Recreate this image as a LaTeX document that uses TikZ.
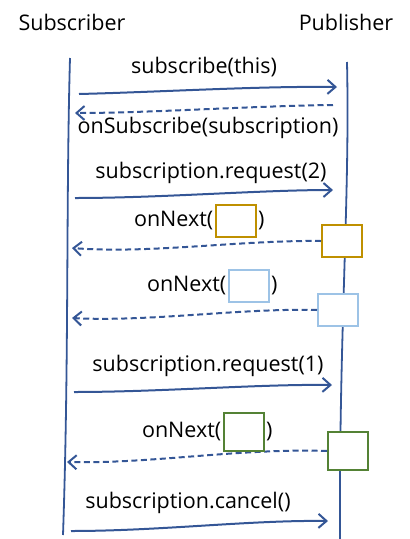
\documentclass[tikz,border=0pt]{standalone}
\usepackage{fontspec}
\setmainfont{Open Sans}
\usetikzlibrary{arrows.meta,positioning}
\definecolor{lineblue}{RGB}{52,86,150}
\definecolor{goldbox}{RGB}{191,144,0}
\definecolor{paleblue}{RGB}{157,195,230}
\definecolor{greenbox}{RGB}{84,130,53}
\begin{document}
\begin{tikzpicture}[x=1pt,y=-1pt]
\tikzstyle{every node}+=[inner sep=0pt,font=\fontsize{21.5}{25}\selectfont]
\tikzstyle{msg}=[lineblue,line width=2pt,-{Straight Barb[length=8pt,width=14pt,line width=2pt]}]
\tikzstyle{reply}=[msg,dash pattern=on 6pt off 3.5pt]
\tikzstyle{item}=[draw,fill=white,line width=2pt,minimum width=40pt,minimum height=32pt]
\useasboundingbox (0,0) rectangle (410,539);
% heads
\node (sub) at (72,22) {Subscriber};
\node (pub) at (346,22) {Publisher};
% lifelines
\draw [lineblue,line width=1.8pt] (70,58) .. controls (66,200) and (69,360) .. (63,535);
\draw [lineblue,line width=1.8pt] (347,62) .. controls (350,200) and (339,330) .. (340,539);
% subscribe(this)
\coordinate (s1) at (79,94);
\coordinate (p1) at (337,87);
\draw [msg] (s1) .. controls (160,92) and (260,86) .. (p1);
\node (m1) at (204,67) {subscribe(this)};
% onSubscribe
\coordinate (p2) at (333,105);
\coordinate (s2) at (75,113);
\draw [reply] (p2) .. controls (250,106) and (150,113) .. (s2);
\node (m2) at (208,128) {onSubscribe(subscription)};
% request(2)
\coordinate (s3) at (75,198);
\coordinate (p3) at (333,190);
\draw [msg] (s3) .. controls (160,198) and (260,190) .. (p3);
\node (m3) at (211,173) {subscription.request(2)};
% first item
\node [item,draw=goldbox] (b1) at (342,241) {};
\coordinate (s4) at (72,248);
\draw [reply] (b1.west) .. controls (240,240) and (150,254) .. (s4);
\node [item,draw=goldbox] (i1) at (235.5,221) {};
\node [left=1pt of i1] (n1) {onNext(};
\node [right=1.5pt of i1] {)};
% second item
\node [item,draw=paleblue] (b2) at (338,310) {};
\coordinate (s5) at (72,318);
\draw [reply] (b2.west) .. controls (240,308) and (150,322) .. (s5);
\node [item,draw=paleblue] (i2) at (248.5,286) {};
\node [left=1pt of i2] (n2) {onNext(};
\node [right=1.5pt of i2] {)};
% request(1)
\coordinate (s6) at (74,392);
\coordinate (p6) at (332,385);
\draw [msg] (s6) .. controls (160,392) and (260,384) .. (p6);
\node (m6) at (208,366) {subscription.request(1)};
% third item
\node [item,draw=greenbox,minimum height=38pt] (b3) at (348,451) {};
\coordinate (s7) at (67,462);
\draw [reply] (b3.west) .. controls (240,448) and (150,464) .. (s7);
\node [item,draw=greenbox,minimum height=38pt] (i3) at (243.5,432) {};
\node [left=1pt of i3] (n3) {onNext(};
\node [right=1.5pt of i3] {)};
% cancel
\coordinate (s8) at (71,531);
\coordinate (p8) at (328,521);
\draw [msg] (s8) .. controls (160,531) and (250,520) .. (p8);
\node (m8) at (188,503) {subscription.cancel()};
\end{tikzpicture}
\end{document}
